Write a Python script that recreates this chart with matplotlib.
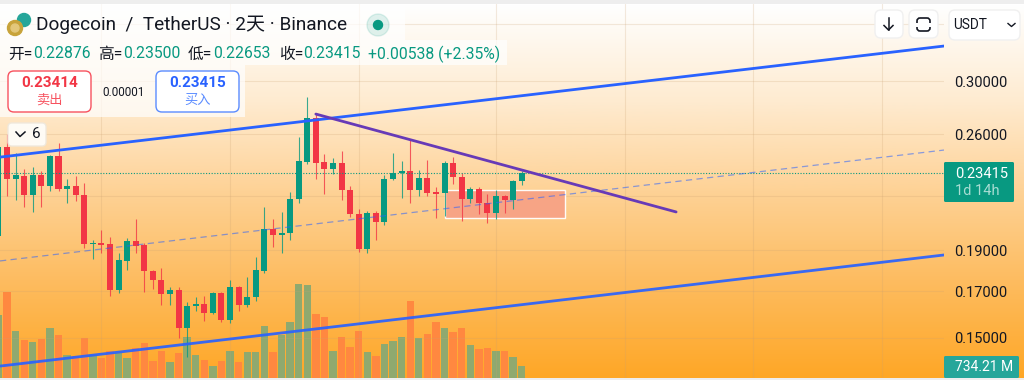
import numpy as np
import matplotlib
matplotlib.use('Agg')
import matplotlib.pyplot as plt
import matplotlib.ticker as ticker
from matplotlib.colors import LinearSegmentedColormap
from matplotlib.patches import FancyBboxPatch, Rectangle, Circle

plt.rcParams['font.family'] = ['Roboto', 'Noto Sans CJK SC', 'DejaVu Sans']

# ── data ───────────────────────────────────────────────────────────────────
OPEN = [.1975, .2508, .2305, .2324, .2206, .2328, .2262, .2450, .2243, .2258, .2207,
        .1932, .1936, .1931, .1706, .1848, .1948, .1927, .1798, .1753, .1690, .1707,
        .1542, .1636, .1643, .1605, .1692, .1574, .1719, .1638, .1676, .1798, .2012,
        .1980, .1989, .2180, .2409, .2713, .2409, .2364, .2403, .2237, .2096, .1906,
        .2101, .2049, .2301, .2338, .2355, .2235, .2307, .2221, .2215, .2403, .2318,
        .2180, .2241, .2157, .2103, .2201, .2176, .22876]
HIGH = [.2524, .2600, .2472, .2366, .2379, .2355, .2457, .2540, .2301, .2322, .2277,
        .1953, .2007, .1968, .1884, .1962, .2066, .1936, .1801, .1810, .1719, .1719,
        .1651, .1673, .1679, .1699, .1696, .1753, .1727, .1769, .1865, .2134, .2066,
        .2107, .2223, .2577, .2871, .2744, .2464, .2435, .2483, .2262, .2126, .2112,
        .2111, .2326, .2468, .2416, .2558, .2359, .2424, .2256, .2419, .2446, .2338,
        .2256, .2252, .2211, .2235, .2206, .2297, .23500]
LOW = [.1964, .2200, .2176, .2137, .2108, .2137, .2231, .2229, .2157, .2172, .1910,
       .1856, .1884, .1679, .1695, .1801, .1887, .1698, .1712, .1638, .1638, .1500,
       .1425, .1614, .1568, .1600, .1567, .1563, .1613, .1632, .1657, .1788, .1918,
       .1884, .1953, .2160, .2398, .2305, .2210, .2332, .2176, .2081, .1893, .1884,
       .1953, .2036, .2297, .2186, .2157, .2200, .2200, .2075, .2084, .2272, .2058,
       .2160, .2096, .2047, .2066, .2103, .2122, .22653]
CLOSE = [.2510, .2305, .2326, .2206, .2330, .2262, .2452, .2243, .2258, .2206, .1932,
         .1936, .1927, .1706, .1851, .1948, .1923, .1798, .1752, .1690, .1707, .1542,
         .1636, .1643, .1605, .1692, .1574, .1719, .1638, .1676, .1801, .2011, .1980,
         .1992, .2184, .2416, .2713, .2406, .2364, .2403, .2235, .2094, .1906, .2101,
         .2049, .2303, .2338, .2355, .2235, .2307, .2219, .2213, .2403, .2316, .2182,
         .2241, .2157, .2103, .2201, .2176, .2289, .23415]
VOLUME = [3986, 5413, 2979, 2413, 2245, 2476, 3168, 2727, 1427, 1406, 2539, 1469, 1259,
          1678, 1574, 1259, 1888, 2203, 1049, 1678, 1007, 1574, 2602, 1469, 1154, 734,
          1091, 1720, 986, 1615, 1615, 3294, 1615, 2727, 3546, 5874, 5832, 4028, 3860,
          1678, 2560, 1930, 2979, 1615, 1406, 2140, 2350, 2560, 4867, 2518, 2769, 3546,
          3126, 2874, 3126, 2098, 1825, 1888, 1720, 1720, 1301, 734.21]

PRICE_TICKS = [0.35, 0.30, 0.26, 0.22, 0.19, 0.17, 0.15]
PRICE_LABELS = ['', '0.30000', '0.26000', '', '0.19000', '0.17000', '0.15000']
TIME_GRID = [12, 27, 42, 58, 73, 88, 103]

# trend lines: (bar index, price) end points
UPPER_X, UPPER_Y = [0.18, 110.23], [.2443, .3297]
MID_X, MID_Y = [0.18, 110.23], [.1846, .2490]
LOWER_X, LOWER_Y = [0.18, 110.23], [.1390, .1876]
PURPLE_X, PURPLE_Y = [37.0, 79.0], [.2744, .2107]
BOX_X, BOX_Y = [52, 66], [.2071, .2238]

LAST = 0.23415

GREEN = '#089981'
RED = '#F23645'
BLUE = '#2962FF'
INK = '#131722'
W, H = 1024, 380
TOP, BOTTOM, RIGHT = 4, 378, 944   # plot area in pixels


def rect(l, t, r, b):
    return [l / W, 1 - b / H, (r - l) / W, (b - t) / H]


fig = plt.figure(figsize=(W / 100, H / 100), dpi=100, facecolor='#EEEEEE')

# ── background gradient ────────────────────────────────────────────────────
bg = fig.add_axes(rect(0, TOP, W, BOTTOM), zorder=0)
cmap = LinearSegmentedColormap.from_list('bg', [
    (0.0, '#FFFFFF'), (0.26, '#FEEBD0'), (0.5, '#FED296'), (0.74, '#FDBC60'), (1.0, '#FFA726')])
bg.imshow(np.linspace(0, 1, 256)[:, None], aspect='auto', cmap=cmap)
bg.axis('off')

# ── volume ─────────────────────────────────────────────────────────────────
idx = np.arange(len(CLOSE))
o, h, l, c = map(np.array, (OPEN, HIGH, LOW, CLOSE))
up = c >= o
XLIM = (0.18, 110.23)

ax_v = fig.add_axes(rect(0, TOP, RIGHT, BOTTOM), zorder=1)
ax_v.patch.set_alpha(0)
ax_v.bar(idx, VOLUME, width=0.86, color=np.where(up, '#8FA96F', '#FF8840'), linewidth=0)
ax_v.set_xlim(*XLIM)
ax_v.set_ylim(0, 62.8 * (BOTTOM - TOP))
ax_v.axis('off')

# ── candles ────────────────────────────────────────────────────────────────
ax = fig.add_axes(rect(0, TOP, RIGHT, BOTTOM), zorder=2)
ax.patch.set_alpha(0)
ax.set_yscale('log')
ax.set_xlim(*XLIM)
ax.set_ylim(.1346, .3693)
ax.yaxis.tick_right()
ax.set_yticks(PRICE_TICKS)
ax.set_yticklabels(PRICE_LABELS)
ax.yaxis.set_minor_locator(ticker.NullLocator())
ax.set_xticks(TIME_GRID)
ax.set_xticklabels([])
ax.tick_params(length=0, pad=7.5, labelsize=10.5, labelcolor=INK)
ax.grid(True, color='#C9A070', alpha=0.22, lw=0.8)
ax.set_axisbelow(True)
for s in ax.spines.values():
    s.set_visible(False)

colors = np.where(up, GREEN, RED)
ax.add_patch(Rectangle((BOX_X[0], BOX_Y[0]), BOX_X[1] - BOX_X[0], BOX_Y[1] - BOX_Y[0],
                       facecolor='#F7A285', edgecolor='white', lw=1.0, alpha=0.95, zorder=2))
ax.vlines(idx, l, h, color=colors, lw=0.8, alpha=0.8, zorder=3)
ax.bar(idx, np.abs(c - o), bottom=np.minimum(o, c), width=0.7, color=colors, linewidth=0, zorder=3)

ax.axhline(LAST, color=GREEN, lw=0.8, ls=(0, (1, 1.5)), zorder=4)
ax.plot(UPPER_X, UPPER_Y, color=BLUE, lw=2.0, zorder=5)
ax.plot(LOWER_X, LOWER_Y, color=BLUE, lw=2.0, alpha=0.92, zorder=5)
ax.plot(MID_X, MID_Y, color=BLUE, lw=0.9, alpha=0.55, ls=(0, (5, 3.5)), zorder=5)
ax.plot(PURPLE_X, PURPLE_Y, color='#673AB7', lw=2.0, zorder=6, solid_capstyle='round')

# ── interface overlays (pixel coordinates) ─────────────────────────────────
ui = fig.add_axes([0, 0, 1, 1], zorder=3)
ui.set_xlim(0, W)
ui.set_ylim(H, 0)
ui.axis('off')
ui.patch.set_alpha(0)


def box(l, t, r, b, fc='white', ec='none', lw=1.0, rad=4, alpha=1.0):
    ui.add_patch(FancyBboxPatch((l, t), r - l, b - t, boxstyle=f'round,pad=0,rounding_size={rad}',
                                facecolor=fc, edgecolor=ec, lw=lw, alpha=alpha))


for l, t, r, b in [(0, 4, 405, 40), (0, 40, 507, 65), (0, 65, 245, 117)]:
    ui.add_patch(Rectangle((l, t), r - l, b - t, facecolor='white', alpha=0.7, lw=0))

# logo + market dot
ui.add_patch(Circle((24, 20), 6.5, color='#26A69A'))
ui.add_patch(Circle((15, 28), 7.5, color='#C8A33A'))
ui.add_patch(Circle((15, 28), 4, color='#E3C77A'))
ui.add_patch(Circle((378, 25), 11, color=GREEN, alpha=0.13))
ui.add_patch(Circle((378, 25), 4.5, color=GREEN))

ui.text(36, 25, 'Dogecoin  /  TetherUS · 2天 · Binance', fontsize=13.7, color=INK,
        ha='left', va='center')

# OHLC legend row
row = [(8, '开=', INK), (33, '0.22876', GREEN), (98, '高=', INK), (123, '0.23500', GREEN),
       (188, '低=', INK), (213, '0.22653', GREEN), (279, '收=', INK), (303, '0.23415', GREEN),
       (368, '+0.00538 (+2.35%)', GREEN)]
for x, s, col in row:
    ui.text(x, 54, s, fontsize=11.3, color=col, ha='left', va='center')

# sell / buy buttons
box(8, 71, 91, 112, ec='#F7525F', rad=6)
box(156, 71, 239, 112, ec='#5B8CFF', rad=6)
ui.text(49.5, 83, '0.23414', fontsize=11, color=RED, ha='center', va='center', fontweight='bold')
ui.text(49.5, 100, '卖出', fontsize=9.5, color='#F7525F', ha='center', va='center')
ui.text(197.5, 83, '0.23415', fontsize=11, color=BLUE, ha='center', va='center', fontweight='bold')
ui.text(197.5, 100, '买入', fontsize=9.5, color='#5B8CFF', ha='center', va='center')
ui.text(123.5, 92, '0.00001', fontsize=8.5, color=INK, ha='center', va='center')

# collapsed indicators
box(8, 123, 46, 146, fc='#FFFDF9', ec='#EFE8DC', alpha=0.95)
ui.plot([16, 20, 25], [132, 136.5, 132], color=INK, lw=1.1)
ui.text(36, 134, '6', fontsize=11, color=INK, ha='center', va='center')

# top right buttons
box(875, 10, 903, 38, ec='#F0F0F0', rad=6)
box(909, 10, 938, 38, ec='#F0F0F0', rad=6)
box(949, 10, 1020, 40, ec='#F0F0F0', rad=6)
ui.plot([888.5, 888.5], [18, 30], color=INK, lw=1.1)
ui.plot([884, 888.5, 893], [25.5, 30, 25.5], color=INK, lw=1.1)
ui.add_patch(FancyBboxPatch((917, 18), 13, 13, boxstyle='round,pad=0,rounding_size=3',
                            fill=False, edgecolor=INK, lw=1.2))
ui.add_patch(Rectangle((914, 22.5), 19, 4, facecolor='white', lw=0))
ui.text(953, 25, 'USDT', fontsize=9.8, color=INK, ha='left', va='center')
ui.plot([1008, 1011.5, 1015], [23.5, 26.5, 23.5], color=INK, lw=1.0)

# last price + volume tags
box(944, 162, 1014, 202, fc=GREEN, rad=1.5)
ui.text(955, 174, '0.23415', fontsize=10.5, color='white', ha='left', va='center')
ui.text(955, 191, '1d 14h', fontsize=10.5, color='#A8DDD3', ha='left', va='center')
box(944, 356, 1019, 378, fc='#26A69A', rad=1.5)
ui.text(955, 367, '734.21 M', fontsize=10, color='white', ha='left', va='center')

fig.savefig('out.png', dpi=100)
plt.close(fig)
